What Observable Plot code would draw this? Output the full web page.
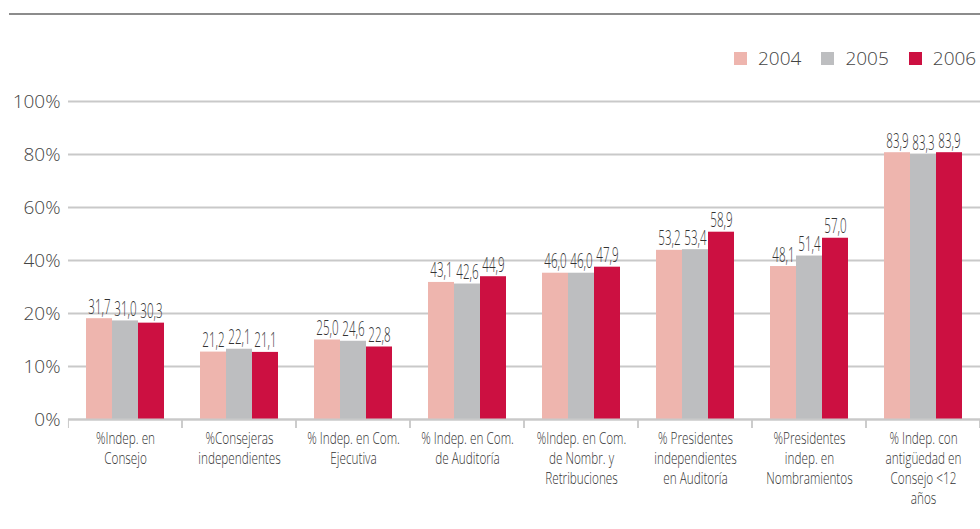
<!DOCTYPE html>
<html>
<head>
<meta charset="utf-8">
<script src="https://cdn.jsdelivr.net/npm/d3@7"></script>
<script src="https://cdn.jsdelivr.net/npm/@observablehq/plot@0.6"></script>
<style>
  html, body { margin: 0; padding: 0; background: #fff; }
  #wrap { position: relative; width: 980px; height: 529px; overflow: hidden; }
  #topline { position: absolute; left: 9px; top: 13px; width: 971px; height: 2px; background: #8c8c8c; }
  #legend { position: absolute; left: 734px; top: 46px; display: flex; font-family: "Open Sans", sans-serif; font-weight: 300; font-size: 19px; line-height: 24px; color: #444; }
  .item { display: flex; align-items: center; margin-right: 20px; }
  .item:last-child { margin-right: 0; }
  .sw { width: 13px; height: 13px; margin-right: 11px; }
  #chart { position: absolute; left: 0; top: 80px; }
</style>
</head>
<body>
<div id="wrap">
  <div id="topline"></div>
  <div id="legend"></div>
  <div id="chart"></div>
</div>
<script>
const categories = [
  "%Indep. en\nConsejo",
  "%Consejeras\nindependientes",
  "% Indep. en Com.\nEjecutiva",
  "% Indep. en Com.\nde Auditoría",
  "%Indep. en Com.\nde Nombr. y\nRetribuciones",
  "% Presidentes\nindependientes\nen Auditoría",
  "%Presidentes\nindep. en\nNombramientos",
  "% Indep. con\nantigüedad en\nConsejo <12\naños"
];
const years = ["2004", "2005", "2006"];
const v2004 = [31.7, 21.2, 25.0, 43.1, 46.0, 53.2, 48.1, 83.9];
const v2005 = [31.0, 22.1, 24.6, 42.6, 46.0, 53.4, 51.4, 83.3];
const v2006 = [30.3, 21.1, 22.8, 44.9, 47.9, 58.9, 57.0, 83.9];
const yTickLabels = ["0%", "10%", "20%", "40%", "60%", "80%", "100%"];
const colors = ["#eeb5ae", "#bdbec0", "#cc1041"];

const series = [v2004, v2005, v2006];
const data = categories.flatMap((c, i) => years.map((y, j) => ({cat: c, year: y, value: series[j][i]})));

// tick label positions: labels evenly spaced across the 0–100 value range
const yTicks = yTickLabels.map((_, i) => i * 100 / (yTickLabels.length - 1));
const tickLabel = new Map(yTicks.map((t, i) => [t, yTickLabels[i]]));

const W = 980, H = 449, ML = 67, MR = 0;
const facetW = (W - ML - MR) / categories.length;
const font = "'Open Sans', sans-serif";

const legend = document.getElementById("legend");
years.forEach((y, i) => {
  const it = document.createElement("div");
  it.className = "item";
  it.innerHTML = `<span class="sw" style="background:${colors[i]}"></span><span>${y}</span>`;
  legend.appendChild(it);
});

const chart = Plot.plot({
  width: W,
  height: H,
  marginLeft: ML,
  marginRight: MR,
  marginTop: 21,
  marginBottom: 110,
  style: {background: "transparent", overflow: "visible"},
  fx: {domain: categories, padding: 0, label: null, axis: null},
  x: {domain: years, paddingInner: 0, paddingOuter: 0.635, axis: null},
  y: {domain: [0, 100], label: null, axis: null},
  color: {domain: years, range: colors},
  marks: [
    Plot.gridY(yTicks, {stroke: "#c9c9c9", strokeOpacity: 1, strokeWidth: 2}),
    Plot.axisY(yTicks, {
      tickSize: 0, tickPadding: 8, tickFormat: d => tickLabel.get(d),
      fontSize: 19, fontWeight: 300, fill: "#444", fontFamily: font, label: null
    }),
    Plot.barY(data, {fx: "cat", x: "year", y: "value", fill: "year"}),
    Plot.text(data, {
      fx: "cat", x: "year", y: "value",
      text: d => d.value.toFixed(1).replace(".", ","),
      lineAnchor: "bottom", dy: -5, fontSize: 20, fontWeight: 300, fill: "#333", fontFamily: font,
      className: "cond-values"
    }),
    Plot.ruleY([0], {stroke: "#c9c9c9", strokeWidth: 2}),
    Plot.axisFx({
      anchor: "bottom", tickSize: 0, tickPadding: 10, label: null,
      fontSize: 15.5, fontWeight: 300, lineHeight: 1.29, fill: "#333", fontFamily: font,
      className: "cond-labels"
    }),
    Plot.axisFx({anchor: "bottom", tickSize: 9, tickFormat: () => "", label: null, dx: -facetW / 2, stroke: "#c9c9c9"}),
    Plot.axisFx([categories[categories.length - 1]], {anchor: "bottom", tickSize: 9, tickFormat: () => "", label: null, dx: facetW / 2 - 1, stroke: "#c9c9c9"})
  ]
});
document.getElementById("chart").appendChild(chart);

// narrow the glyphs horizontally to imitate the condensed face of the original
function condense(selector, factor) {
  chart.querySelectorAll(selector).forEach(t => {
    const tr = t.getAttribute("transform");
    if (tr && tr.includes("translate")) {
      t.setAttribute("transform", `${tr} scale(${factor},1)`);
    } else {
      const x = +(t.getAttribute("x") || 0);
      t.setAttribute("transform", `${tr || ""} translate(${x * (1 - factor)},0) scale(${factor},1)`);
    }
  });
}
condense(".cond-values text", 0.58);
condense(".cond-labels text", 0.76);
</script>
</body>
</html>
